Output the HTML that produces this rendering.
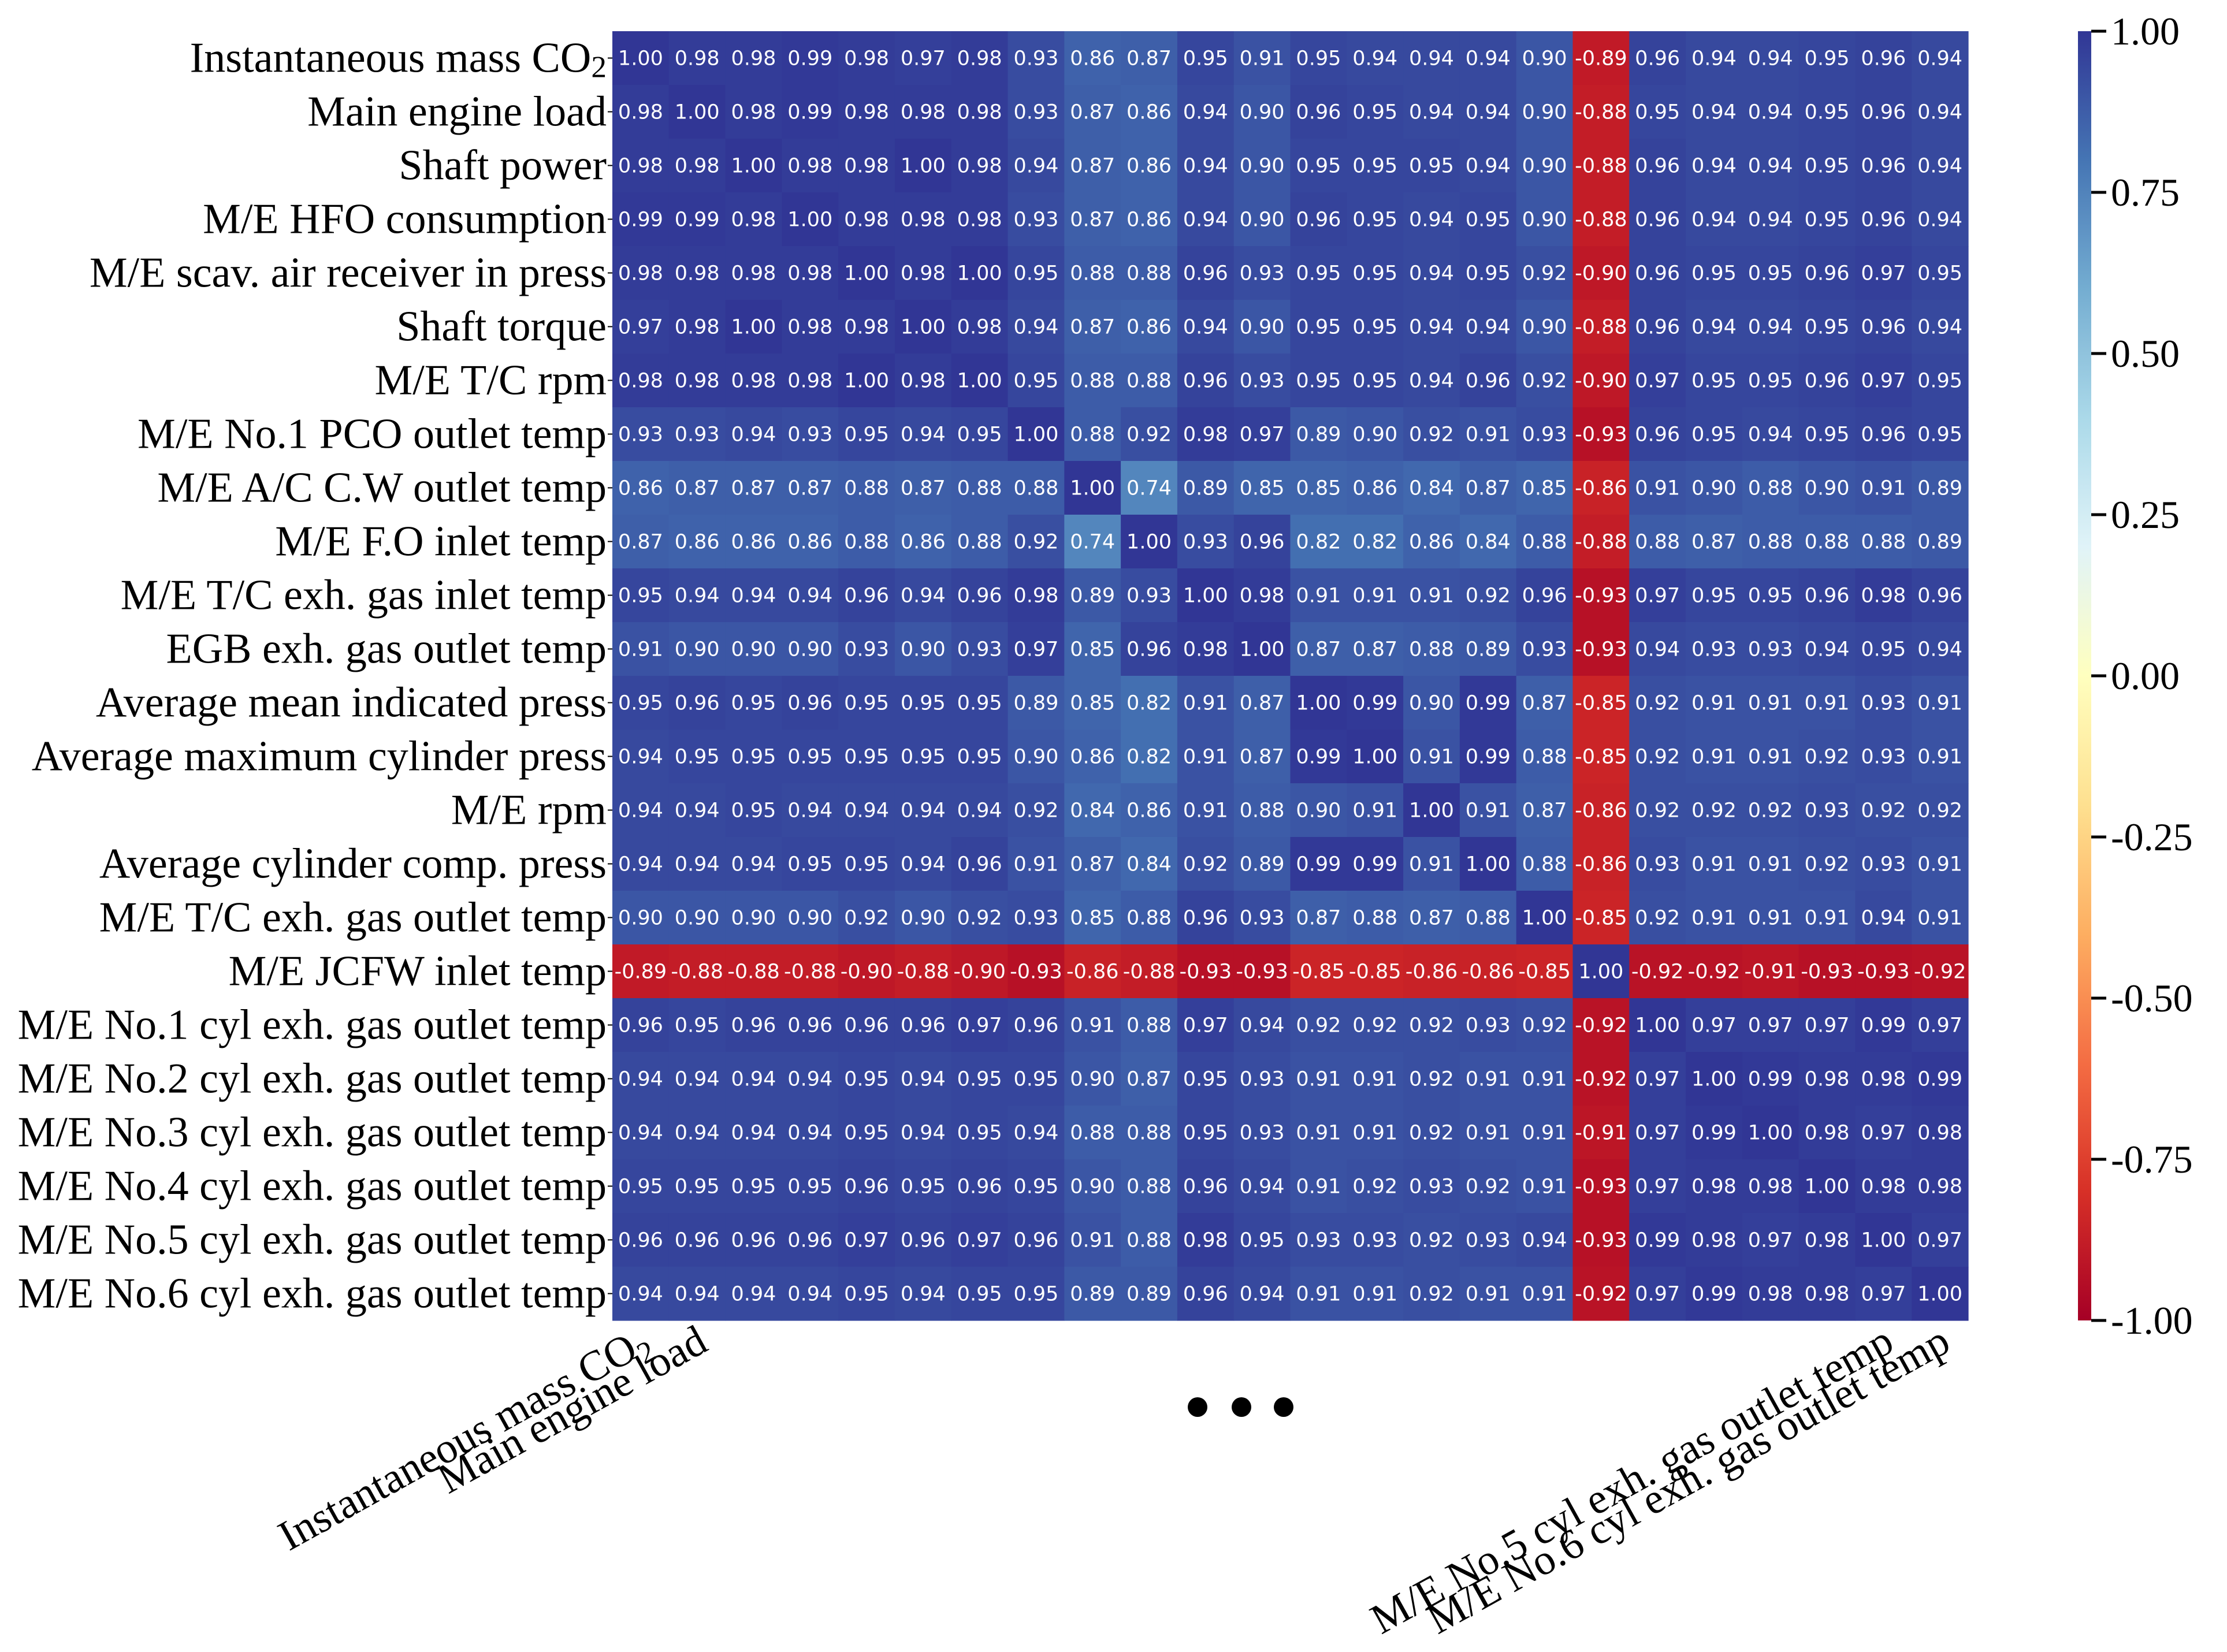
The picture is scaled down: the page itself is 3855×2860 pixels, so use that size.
<!DOCTYPE html>
<html><head><meta charset="utf-8">
<style>
html,body{margin:0;padding:0;background:#fff;}
svg{display:block;}
</style></head>
<body>
<svg id="chart" width="3855" height="2860" viewBox="0 0 3855 2860" xmlns="http://www.w3.org/2000/svg"></svg>
<script>
const rowLabels = ["Instantaneous mass CO|2","Main engine load","Shaft power","M/E HFO consumption","M/E scav. air receiver in press","Shaft torque","M/E T/C rpm","M/E No.1 PCO outlet temp","M/E A/C C.W outlet temp","M/E F.O inlet temp","M/E T/C exh. gas inlet temp","EGB exh. gas outlet temp","Average mean indicated press","Average maximum cylinder press","M/E rpm","Average cylinder comp. press","M/E T/C exh. gas outlet temp","M/E JCFW inlet temp","M/E No.1 cyl exh. gas outlet temp","M/E No.2 cyl exh. gas outlet temp","M/E No.3 cyl exh. gas outlet temp","M/E No.4 cyl exh. gas outlet temp","M/E No.5 cyl exh. gas outlet temp","M/E No.6 cyl exh. gas outlet temp"];
const colLabelIdx = [0,1,22,23];
const colorbarTicks = [1,0.75,0.5,0.25,0,-0.25,-0.5,-0.75,-1];
const colorbarTickLabels = ["1.00","0.75","0.50","0.25","0.00","-0.25","-0.50","-0.75","-1.00"];
const corr = [
[1.00,0.98,0.98,0.99,0.98,0.97,0.98,0.93,0.86,0.87,0.95,0.91,0.95,0.94,0.94,0.94,0.90,-0.89,0.96,0.94,0.94,0.95,0.96,0.94],
[0.98,1.00,0.98,0.99,0.98,0.98,0.98,0.93,0.87,0.86,0.94,0.90,0.96,0.95,0.94,0.94,0.90,-0.88,0.95,0.94,0.94,0.95,0.96,0.94],
[0.98,0.98,1.00,0.98,0.98,1.00,0.98,0.94,0.87,0.86,0.94,0.90,0.95,0.95,0.95,0.94,0.90,-0.88,0.96,0.94,0.94,0.95,0.96,0.94],
[0.99,0.99,0.98,1.00,0.98,0.98,0.98,0.93,0.87,0.86,0.94,0.90,0.96,0.95,0.94,0.95,0.90,-0.88,0.96,0.94,0.94,0.95,0.96,0.94],
[0.98,0.98,0.98,0.98,1.00,0.98,1.00,0.95,0.88,0.88,0.96,0.93,0.95,0.95,0.94,0.95,0.92,-0.90,0.96,0.95,0.95,0.96,0.97,0.95],
[0.97,0.98,1.00,0.98,0.98,1.00,0.98,0.94,0.87,0.86,0.94,0.90,0.95,0.95,0.94,0.94,0.90,-0.88,0.96,0.94,0.94,0.95,0.96,0.94],
[0.98,0.98,0.98,0.98,1.00,0.98,1.00,0.95,0.88,0.88,0.96,0.93,0.95,0.95,0.94,0.96,0.92,-0.90,0.97,0.95,0.95,0.96,0.97,0.95],
[0.93,0.93,0.94,0.93,0.95,0.94,0.95,1.00,0.88,0.92,0.98,0.97,0.89,0.90,0.92,0.91,0.93,-0.93,0.96,0.95,0.94,0.95,0.96,0.95],
[0.86,0.87,0.87,0.87,0.88,0.87,0.88,0.88,1.00,0.74,0.89,0.85,0.85,0.86,0.84,0.87,0.85,-0.86,0.91,0.90,0.88,0.90,0.91,0.89],
[0.87,0.86,0.86,0.86,0.88,0.86,0.88,0.92,0.74,1.00,0.93,0.96,0.82,0.82,0.86,0.84,0.88,-0.88,0.88,0.87,0.88,0.88,0.88,0.89],
[0.95,0.94,0.94,0.94,0.96,0.94,0.96,0.98,0.89,0.93,1.00,0.98,0.91,0.91,0.91,0.92,0.96,-0.93,0.97,0.95,0.95,0.96,0.98,0.96],
[0.91,0.90,0.90,0.90,0.93,0.90,0.93,0.97,0.85,0.96,0.98,1.00,0.87,0.87,0.88,0.89,0.93,-0.93,0.94,0.93,0.93,0.94,0.95,0.94],
[0.95,0.96,0.95,0.96,0.95,0.95,0.95,0.89,0.85,0.82,0.91,0.87,1.00,0.99,0.90,0.99,0.87,-0.85,0.92,0.91,0.91,0.91,0.93,0.91],
[0.94,0.95,0.95,0.95,0.95,0.95,0.95,0.90,0.86,0.82,0.91,0.87,0.99,1.00,0.91,0.99,0.88,-0.85,0.92,0.91,0.91,0.92,0.93,0.91],
[0.94,0.94,0.95,0.94,0.94,0.94,0.94,0.92,0.84,0.86,0.91,0.88,0.90,0.91,1.00,0.91,0.87,-0.86,0.92,0.92,0.92,0.93,0.92,0.92],
[0.94,0.94,0.94,0.95,0.95,0.94,0.96,0.91,0.87,0.84,0.92,0.89,0.99,0.99,0.91,1.00,0.88,-0.86,0.93,0.91,0.91,0.92,0.93,0.91],
[0.90,0.90,0.90,0.90,0.92,0.90,0.92,0.93,0.85,0.88,0.96,0.93,0.87,0.88,0.87,0.88,1.00,-0.85,0.92,0.91,0.91,0.91,0.94,0.91],
[-0.89,-0.88,-0.88,-0.88,-0.90,-0.88,-0.90,-0.93,-0.86,-0.88,-0.93,-0.93,-0.85,-0.85,-0.86,-0.86,-0.85,1.00,-0.92,-0.92,-0.91,-0.93,-0.93,-0.92],
[0.96,0.95,0.96,0.96,0.96,0.96,0.97,0.96,0.91,0.88,0.97,0.94,0.92,0.92,0.92,0.93,0.92,-0.92,1.00,0.97,0.97,0.97,0.99,0.97],
[0.94,0.94,0.94,0.94,0.95,0.94,0.95,0.95,0.90,0.87,0.95,0.93,0.91,0.91,0.92,0.91,0.91,-0.92,0.97,1.00,0.99,0.98,0.98,0.99],
[0.94,0.94,0.94,0.94,0.95,0.94,0.95,0.94,0.88,0.88,0.95,0.93,0.91,0.91,0.92,0.91,0.91,-0.91,0.97,0.99,1.00,0.98,0.97,0.98],
[0.95,0.95,0.95,0.95,0.96,0.95,0.96,0.95,0.90,0.88,0.96,0.94,0.91,0.92,0.93,0.92,0.91,-0.93,0.97,0.98,0.98,1.00,0.98,0.98],
[0.96,0.96,0.96,0.96,0.97,0.96,0.97,0.96,0.91,0.88,0.98,0.95,0.93,0.93,0.92,0.93,0.94,-0.93,0.99,0.98,0.97,0.98,1.00,0.97],
[0.94,0.94,0.94,0.94,0.95,0.94,0.95,0.95,0.89,0.89,0.96,0.94,0.91,0.91,0.92,0.91,0.91,-0.92,0.97,0.99,0.98,0.98,0.97,1.00]
];

const NS = "http://www.w3.org/2000/svg";
const svg = document.getElementById('chart');
const X0 = 1060, X1 = 3407, Y0 = 54, Y1 = 2286;
const n = rowLabels.length;
const cw = (X1 - X0) / n, ch = (Y1 - Y0) / n;
const xPos = i => X0 + i * cw;
const yPos = j => Y0 + j * ch;
const CB_X0 = 3597, CB_X1 = 3620;
const cbY = v => Y0 + (1 - v) / 2 * (Y1 - Y0);

const stops = ["#a50026","#d73027","#f46d43","#fdae61","#fee090","#ffffbf","#e0f3f8","#abd9e9","#74add1","#4575b4","#313695"];
function hex(h){return [parseInt(h.substr(1,2),16),parseInt(h.substr(3,2),16),parseInt(h.substr(5,2),16)];}
function cmap(v){
  let t = Math.max(0, Math.min(1, (v + 1) / 2)) * 10;
  let i = Math.min(9, Math.floor(t)), f = t - i;
  const a = hex(stops[i]), b = hex(stops[i+1]);
  return `rgb(${Math.round(a[0]+(b[0]-a[0])*f)},${Math.round(a[1]+(b[1]-a[1])*f)},${Math.round(a[2]+(b[2]-a[2])*f)})`;
}
function el(tag, attrs){
  const e = document.createElementNS(NS, tag);
  for (const k in attrs) e.setAttribute(k, attrs[k]);
  return e;
}
function addLabel(parent, label, attrs){
  const t = el('text', attrs);
  const parts = label.split('|');
  t.appendChild(document.createTextNode(parts[0]));
  if (parts[1]) {
    const s = el('tspan', {'baseline-shift':'-30%','font-size':'0.72em'});
    s.textContent = parts[1];
    t.appendChild(s);
  }
  parent.appendChild(t);
  return t;
}

// cells
const gCells = el('g', {});


svg.appendChild(gCells);
for (let r = 0; r < n; r++) {
  for (let c = 0; c < n; c++) {
    const v = corr[r][c];
    const rect = el('rect', {x: xPos(c), y: yPos(r), width: cw + 0.6, height: ch + 0.6, fill: cmap(v)});
    
    
    gCells.appendChild(rect);
    const t = el('text', {x: xPos(c) + cw / 2, y: yPos(r) + ch / 2 + 1, 'text-anchor': 'middle', 'dominant-baseline': 'central', 'font-family': '"DejaVu Sans", sans-serif', 'font-size': 35, fill: '#fff'});
    
    
    t.textContent = v.toFixed(2);
    gCells.appendChild(t);
  }
}

// row labels
for (let r = 0; r < n; r++) {
  const t = addLabel(svg, rowLabels[r], {x: X0 - 10, y: yPos(r) + ch / 2, 'text-anchor': 'end', 'dominant-baseline': 'central', 'font-family': '"Liberation Serif", serif', 'font-size': 74, fill: '#000'});
  
  
  const tk = el('line', {x1: X0 - 8, x2: X0, y1: yPos(r) + ch / 2, y2: yPos(r) + ch / 2, stroke: '#000', 'stroke-width': 2});
  
  
  svg.appendChild(tk);
}

// column labels (rotated)
for (const c of colLabelIdx) {
  const ex = xPos(c) + cw / 2 + 22, ey = Y1 + 50;
  const t = addLabel(svg, rowLabels[c], {x: ex, y: ey, 'text-anchor': 'end', transform: `rotate(-29 ${ex} ${ey})`, 'font-family': '"Liberation Serif", serif', 'font-size': 74, fill: '#000'});
  
  
}

// ellipsis dots
for (const dx of [2073, 2149, 2222]) {
  const d = el('circle', {cx: dx, cy: 2436, r: 17, fill: '#000'});
  
  
  svg.appendChild(d);
}

// colorbar
const defs = el('defs', {});
const grad = el('linearGradient', {id: 'cbgrad', x1: 0, y1: 0, x2: 0, y2: 1});
for (let k = 0; k <= 40; k++) {
  const v = 1 - k / 20;
  grad.appendChild(el('stop', {offset: (k / 40), 'stop-color': cmap(v)}));
}
defs.appendChild(grad);
svg.appendChild(defs);
const cb = el('rect', {x: CB_X0, y: Y0, width: CB_X1 - CB_X0, height: Y1 - Y0, fill: 'url(#cbgrad)'});


svg.appendChild(cb);
colorbarTicks.forEach((v, i) => {
  const y = cbY(v);
  const tk = el('line', {x1: CB_X1, x2: CB_X1 + 26, y1: y, y2: y, stroke: '#000', 'stroke-width': 5});
  
  
  svg.appendChild(tk);
  const t = el('text', {x: CB_X1 + 34, y: y, 'dominant-baseline': 'central', 'font-family': '"Liberation Serif", serif', 'font-size': 68, fill: '#000'});
  
  
  t.textContent = colorbarTickLabels[i];
  svg.appendChild(t);
});
</script>
</body></html>
